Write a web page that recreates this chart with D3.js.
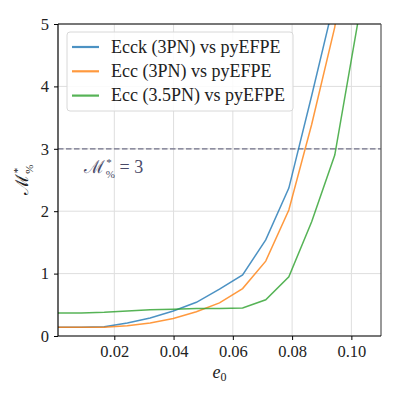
<!DOCTYPE html>
<html>
<head>
<meta charset="utf-8">
<script src="https://cdn.jsdelivr.net/npm/d3@7"></script>
<style>
  body { margin: 0; background: #fff; }
  text { font-family: "Liberation Serif", serif; }
</style>
</head>
<body>
<script>
// eccentricity grid
var e0 = [0.001, 0.0088, 0.0166, 0.0244, 0.0321, 0.0399, 0.0477, 0.0555, 0.0633, 0.0711, 0.0789, 0.0866, 0.0944, 0.1022, 0.11];
var ecck3pn = [0.14, 0.14, 0.15, 0.21, 0.29, 0.40, 0.54, 0.75, 0.98, 1.54, 2.37, 3.85, 5.4, 8.0, 11.0];
var ecc3pn = [0.14, 0.14, 0.14, 0.165, 0.21, 0.28, 0.39, 0.53, 0.76, 1.20, 2.02, 3.39, 4.95, 7.5, 10.5];
var ecc35pn = [0.37, 0.37, 0.38, 0.40, 0.42, 0.43, 0.44, 0.44, 0.45, 0.58, 0.95, 1.83, 2.90, 5.03, 8.0];
var seriesNames = ['Ecck (3PN) vs pyEFPE', 'Ecc (3PN) vs pyEFPE', 'Ecc (3.5PN) vs pyEFPE'];
var seriesColors = ['#1f77b4', '#ff7f0e', '#2ca02c'];
var xTicks = [0.02, 0.04, 0.06, 0.08, 0.10];
var yTicks = [0, 1, 2, 3, 4, 5];
var threshold = 3;

var width = 399, height = 399;
var margin = {top: 24, right: 18, bottom: 63, left: 58};
var w = width - margin.left - margin.right;
var h = height - margin.top - margin.bottom;

var svg = d3.select('body').append('svg')
	.attr('width', width)
	.attr('height', height);

var g = svg.append('g').attr('transform', 'translate(' + margin.left + ',' + margin.top + ')');

var x = d3.scaleLinear().domain([0.001, 0.11]).range([0, w]);
var y = d3.scaleLinear().domain([0, 5]).range([h, 0]);

svg.append('defs').append('clipPath').attr('id', 'plotClip')
	.append('rect').attr('width', w).attr('height', h);

// grid
g.selectAll('.gx').data(xTicks).enter().append('line')
	.attr('x1', function(d) { return x(d); }).attr('x2', function(d) { return x(d); })
	.attr('y1', 0).attr('y2', h)
	.attr('stroke', '#dedede').attr('stroke-width', 1);
g.selectAll('.gy').data(yTicks).enter().append('line')
	.attr('y1', function(d) { return y(d); }).attr('y2', function(d) { return y(d); })
	.attr('x1', 0).attr('x2', w)
	.attr('stroke', '#dedede').attr('stroke-width', 1);

// threshold line
g.append('line')
	.attr('x1', 0).attr('x2', w)
	.attr('y1', y(threshold)).attr('y2', y(threshold))
	.attr('stroke', '#707088').attr('stroke-width', 1.3)
	.attr('stroke-dasharray', '5.5,2.5');

var lineGen = d3.line()
	.x(function(d) { return x(d[0]); })
	.y(function(d) { return y(d[1]); });

var allSeries = [ecck3pn, ecc3pn, ecc35pn];
var plot = g.append('g').attr('clip-path', 'url(#plotClip)');
allSeries.forEach(function(vals, i) {
	plot.append('path')
		.datum(e0.map(function(e, j) { return [e, vals[j]]; }))
		.attr('fill', 'none')
		.attr('stroke', seriesColors[i])
		.attr('stroke-opacity', 0.8)
		.attr('stroke-width', 1.5)
		.attr('d', lineGen);
});

// annotation
var ann = g.append('text')
	.attr('x', x(0.0099)).attr('y', y(2.62))
	.attr('font-size', 18).attr('fill', '#4a4a68');
ann.append('tspan').text('ℳ');
ann.append('tspan').attr('font-size', 11).attr('dx', 1).attr('dy', -7).text('*');
ann.append('tspan').attr('font-size', 11).attr('dx', -6).attr('dy', 12).text('%');
ann.append('tspan').attr('dy', -5).text(' = 3');

// axes
var xAxis = g.append('g').attr('transform', 'translate(0,' + h + ')')
	.call(d3.axisBottom(x).tickValues(xTicks).tickFormat(d3.format('.2f')).tickSize(4).tickPadding(5));
var yAxis = g.append('g')
	.call(d3.axisLeft(y).tickValues(yTicks).tickFormat(d3.format('d')).tickSize(4).tickPadding(5));
[xAxis, yAxis].forEach(function(a) {
	a.attr('font-family', null);
	a.select('.domain').remove();
	a.selectAll('.tick line').attr('stroke', '#000').attr('stroke-width', 1);
	a.selectAll('.tick text').attr('font-size', 16.5).attr('fill', '#222');
});

// spines
g.append('line').attr('x1', 0).attr('x2', w).attr('y1', 0).attr('y2', 0).attr('stroke', '#000').attr('stroke-width', 1.2);
g.append('line').attr('x1', w).attr('x2', w).attr('y1', 0).attr('y2', h).attr('stroke', '#555').attr('stroke-width', 1.2);
g.append('line').attr('x1', 0).attr('x2', 0).attr('y1', 0).attr('y2', h).attr('stroke', '#000').attr('stroke-width', 1.2);
g.append('line').attr('x1', 0).attr('x2', w).attr('y1', h).attr('y2', h).attr('stroke', '#000').attr('stroke-width', 1.2);

// x label
var xl = g.append('text')
	.attr('x', w / 2).attr('y', h + 42)
	.attr('text-anchor', 'middle').attr('font-size', 18).attr('fill', '#222');
xl.append('tspan').attr('font-style', 'italic').text('e');
xl.append('tspan').attr('font-size', 12).attr('dy', 3).text('0');

// y label
var yl = g.append('text')
	.attr('transform', 'translate(-30,' + (h / 2) + ') rotate(-90)')
	.attr('text-anchor', 'middle').attr('font-size', 18).attr('fill', '#222');
yl.append('tspan').text('ℳ');
yl.append('tspan').attr('font-size', 11).attr('dx', 1).attr('dy', -7).text('*');
yl.append('tspan').attr('font-size', 11).attr('dx', -6).attr('dy', 12).text('%');

// legend
var leg = g.append('g').attr('transform', 'translate(9,8)');
leg.append('rect')
	.attr('width', 226).attr('height', 79).attr('rx', 3)
	.attr('fill', '#fff').attr('fill-opacity', 0.85)
	.attr('stroke', '#d8d8d8').attr('stroke-width', 1);
seriesNames.forEach(function(name, i) {
	var row = leg.append('g').attr('transform', 'translate(0,' + (15 + i * 24.3) + ')');
	row.append('line')
		.attr('x1', 5).attr('x2', 32).attr('y1', 0).attr('y2', 0)
		.attr('stroke', seriesColors[i]).attr('stroke-opacity', 0.8).attr('stroke-width', 2.2);
	row.append('text')
		.attr('x', 44).attr('y', 5.5)
		.attr('font-size', 18).attr('fill', '#222')
		.text(name);
});
</script>
</body>
</html>
